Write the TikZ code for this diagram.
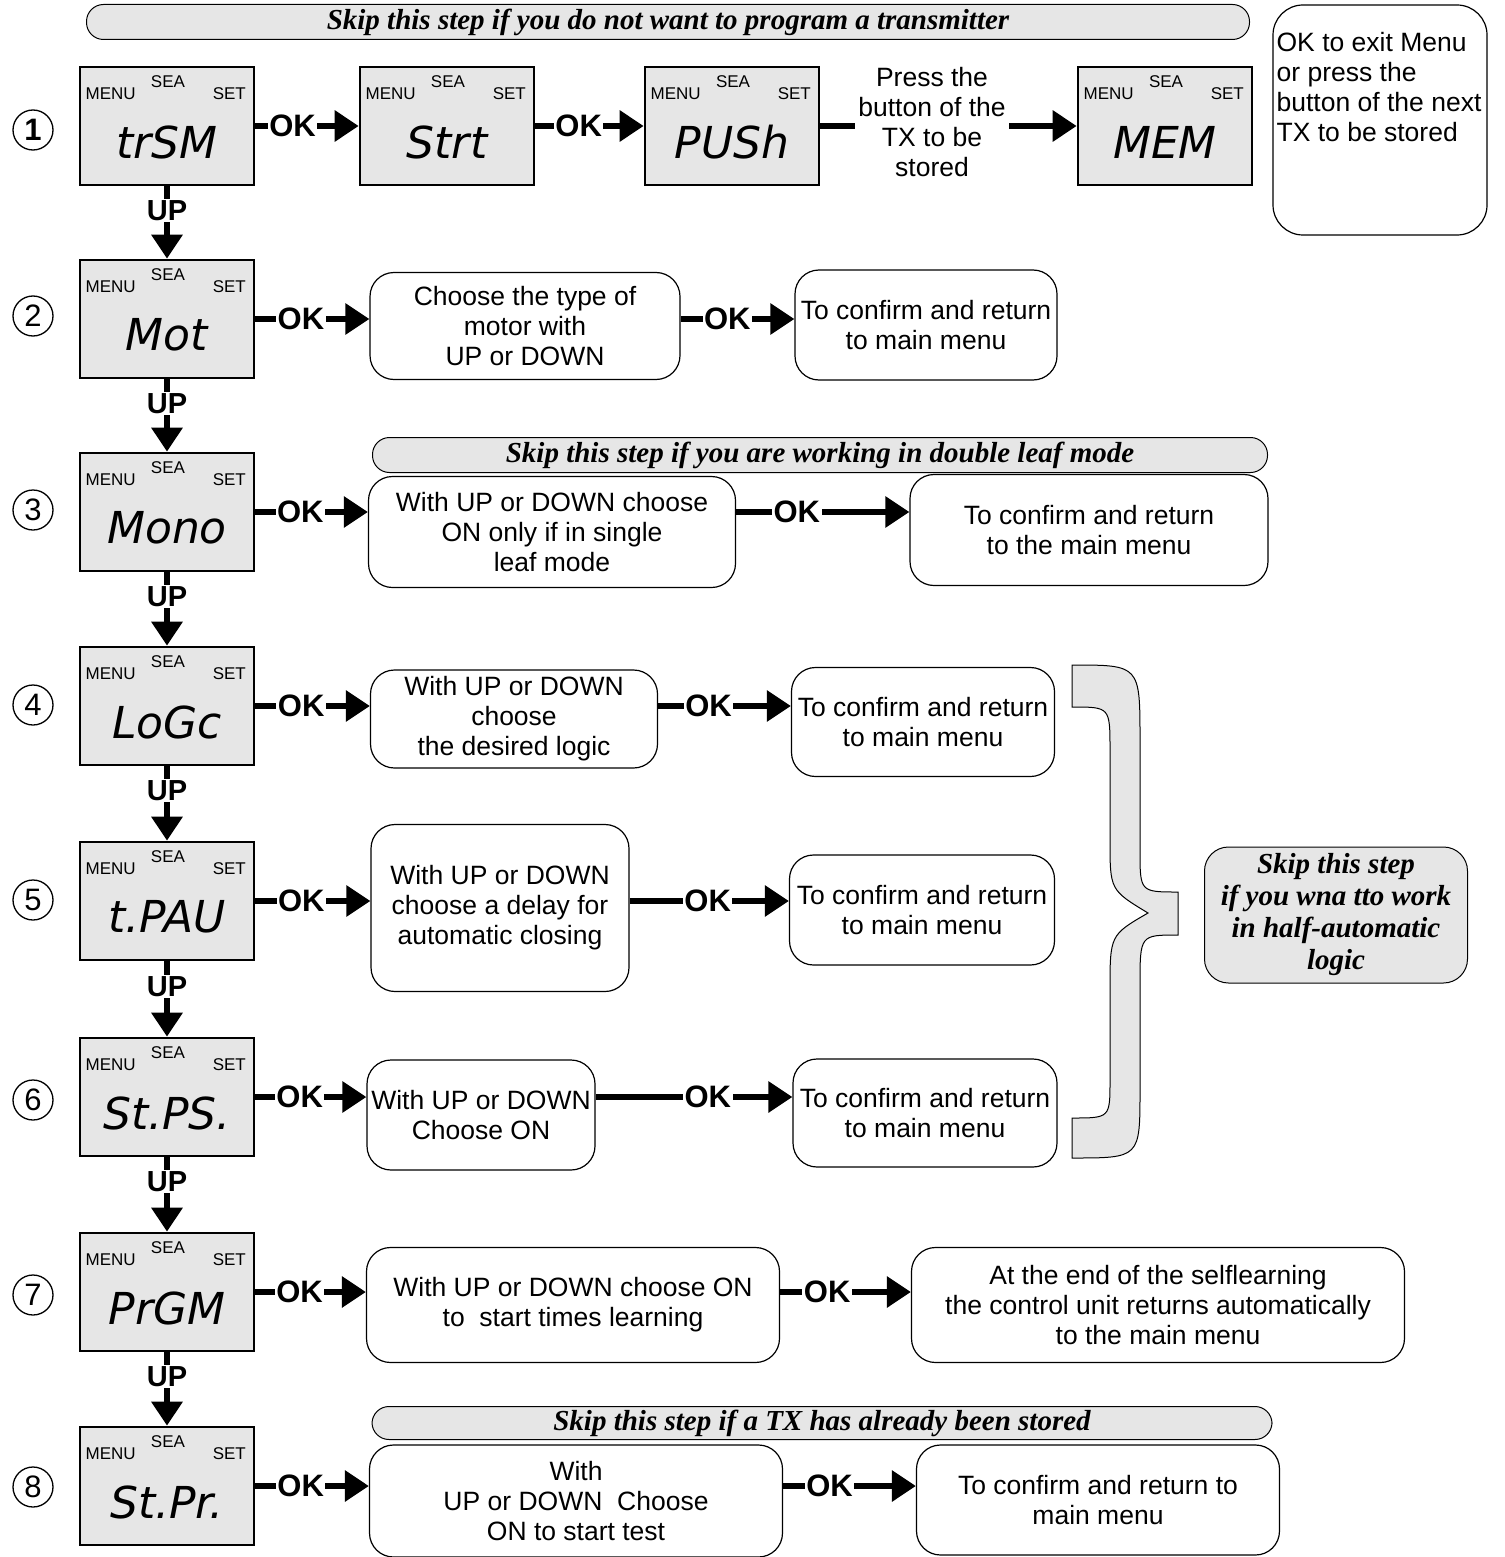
\documentclass[tikz,border=0pt]{standalone}
\usepackage{fontspec}
\setmainfont{Liberation Sans}
\newfontfamily\skipfont{Liberation Serif}
\newfontfamily\lcdfont{DejaVu Sans}
\usetikzlibrary{arrows.meta}
\definecolor{panelgray}{HTML}{E6E6E6}

\begin{document}
\begin{tikzpicture}[x=1pt,y=-1pt,
    lcdbox/.style={draw, line width=2.6pt, fill=panelgray, minimum width=174pt, minimum height=118pt, inner sep=0pt},
    lcdtext/.style={font=\lcdfont\itshape\fontsize{44}{44}\selectfont, inner sep=0pt},
    lcdtag/.style={font=\fontsize{17}{18}\selectfont, inner sep=0pt},
    infobox/.style={draw, line width=1.2pt, rounded corners=24pt, fill=white, align=center, inner sep=2pt, font=\fontsize{26.5}{30}\selectfont},
    skipbar/.style={draw, line width=1pt, rounded corners=17pt, fill=panelgray, minimum height=35pt, inner sep=1pt, font=\skipfont\bfseries\itshape\fontsize{29}{32}\selectfont},
    okarrow/.style={line width=6pt, -{Triangle[length=24pt,width=30pt]}},
    okline/.style={line width=6pt},
    oklabel/.style={fill=white, inner sep=1.5pt, font=\bfseries\fontsize{31}{31}\selectfont, pos=0.4},
    uplabel/.style={fill=white, inner sep=1.5pt, font=\bfseries\fontsize{29}{29}\selectfont, pos=0.33},
    numcirc/.style={circle, draw, line width=1.3pt, minimum size=40pt, inner sep=0pt, font=\fontsize{31}{31}\selectfont}]
    \useasboundingbox (0,0) rectangle (1504,1557);

    \foreach \n/\x/\y/\txt in {lcd1/167/126/trSM, lcd1b/447/126/Strt, lcd1c/732/126/PUSh, lcd1d/1165/126/MEM,
        lcd2/167/319/Mot, lcd3/167/512/Mono, lcd4/167/706/LoGc, lcd5/167/901/t.PAU,
        lcd6/167/1097/St.PS., lcd7/167/1292/PrGM, lcd8/167/1486/St.Pr.}
    {
        \node[lcdbox] (\n) at (\x,\y) {};
        \node[lcdtext] (\n-txt) at ([yshift=-16pt]\n.center) {\txt};
        \node[lcdtag] (\n-menu) at ([xshift=32pt,yshift=-28pt]\n.north west) {MENU};
        \node[lcdtag] (\n-sea) at ([xshift=1pt,yshift=-16pt]\n.north) {SEA};
        \node[lcdtag] (\n-set) at ([xshift=-26pt,yshift=-28pt]\n.north east) {SET};
    }

    \node[numcirc, font=\bfseries\fontsize{31}{31}\selectfont] (num1) at (33,130) {1};
    \foreach \i/\y in {2/316,3/510,4/705,5/900,6/1100,7/1295,8/1487}
        \node[numcirc] (num\i) at (33,\y) {\i};

    \foreach \i [count=\j from 2] in {1,...,7}
        \draw[okarrow] (lcd\i) -- node[uplabel] {UP} (lcd\j);

    \node[skipbar, minimum width=1163pt] (skip1) at (668,22) {Skip this step if you do not want to program a transmitter};
    \draw[okarrow] (lcd1) -- node[oklabel, pos=0.36] {OK} (lcd1b);
    \draw[okarrow] (lcd1b) -- node[oklabel] {OK} (lcd1c);
    \node[align=center, font=\fontsize{26.5}{30}\selectfont] (press) at (932,122) {Press the\\button of the\\TX to be\\stored};
    \draw[okline] (lcd1c) -- (lcd1c -| press.west);
    \draw[okarrow] (lcd1c -| press.east) -- (lcd1d);
    \node[draw, line width=1.2pt, rounded corners=30pt, minimum width=214pt, minimum height=230pt] (note) at (1380,120) {};
    \node[anchor=north west, align=left, inner sep=0pt, font=\fontsize{26.5}{30}\selectfont] (note-txt) at ([xshift=4pt,yshift=-28pt]note.north west) {OK to exit Menu\\or press the\\button of the next\\TX to be stored};

    \node[infobox, minimum width=310pt, minimum height=107pt] (mot-a) at (525,326) {Choose the type of\\motor with\\UP or DOWN};
    \node[infobox, minimum width=262pt, minimum height=110pt] (mot-b) at (926,325) {To confirm and return\\to main menu};
    \draw[okarrow] (lcd2) -- node[oklabel] {OK} (lcd2 -| mot-a.west);
    \draw[okarrow] (lcd2 -| mot-a.east) -- node[oklabel, pos=0.41] {OK} (lcd2 -| mot-b.west);

    \node[skipbar, minimum width=895pt] (skip3) at (820,455) {Skip this step if you are working in double leaf mode};
    \node[infobox, minimum width=367pt, minimum height=111pt] (mono-a) at (552,532) {With UP or DOWN choose\\ON only if in single\\leaf mode};
    \node[infobox, minimum width=358pt, minimum height=111pt] (mono-b) at (1089,530) {To confirm and return\\to the main menu};
    \draw[okarrow] (lcd3) -- node[oklabel] {OK} (lcd3 -| mono-a.west);
    \draw[okarrow] (lcd3 -| mono-a.east) -- node[oklabel, pos=0.35] {OK} (lcd3 -| mono-b.west);

    \node[infobox, minimum width=287pt, minimum height=98pt] (logic-a) at (514,719) {With UP or DOWN\\choose\\the desired logic};
    \node[infobox, minimum width=263pt, minimum height=109pt] (logic-b) at (923,722) {To confirm and return\\to main menu};
    \draw[okarrow] (lcd4) -- node[oklabel] {OK} (lcd4 -| logic-a.west);
    \draw[okarrow] (lcd4 -| logic-a.east) -- node[oklabel, pos=0.38] {OK} (lcd4 -| logic-b.west);

    \node[infobox, minimum width=258pt, minimum height=167pt] (pause-a) at (500,908) {With UP or DOWN\\choose a delay for\\automatic closing};
    \node[infobox, minimum width=265pt, minimum height=110pt] (pause-b) at (922,910) {To confirm and return\\to main menu};
    \draw[okarrow] (lcd5) -- node[oklabel] {OK} (lcd5 -| pause-a.west);
    \draw[okarrow] (lcd5 -| pause-a.east) -- node[oklabel, pos=0.49] {OK} (lcd5 -| pause-b.west);

    \node[infobox, minimum width=228pt, minimum height=110pt] (stps-a) at (481,1115) {With UP or DOWN\\Choose ON};
    \node[infobox, minimum width=264pt, minimum height=108pt] (stps-b) at (925,1113) {To confirm and return\\to main menu};
    \draw[okarrow] (lcd6) -- node[oklabel] {OK} (lcd6 -| stps-a.west);
    \draw[okarrow] (lcd6 -| stps-a.east) -- node[oklabel, pos=0.57] {OK} (lcd6 -| stps-b.west);

    \draw[line width=1pt, fill=panelgray] (1072,665) .. controls (1140,665) .. (1140,740) -- (1140,850)
        .. controls (1140,892) .. (1178,892) -- (1178,935) .. controls (1140,935) .. (1140,985) -- (1140,1090)
        .. controls (1140,1158) .. (1072,1158) -- (1072,1118) .. controls (1110,1118) .. (1110,1080) -- (1110,990)
        .. controls (1110,935) .. (1148,913) .. controls (1110,890) .. (1110,840) -- (1110,750)
        .. controls (1110,707) .. (1072,707) -- cycle;
    \node[skipbar, rounded corners=24pt, minimum width=263pt, minimum height=136pt, align=center] (halfauto) at (1336,915) {Skip this step\\if you wna tto work\\in half-automatic\\logic};

    \node[infobox, minimum width=413pt, minimum height=115pt] (prgm-a) at (573,1305) {With UP or DOWN choose ON\\to\ \ start times learning};
    \node[infobox, minimum width=493pt, minimum height=115pt] (prgm-b) at (1158,1305) {At the end of the selflearning\\the control unit returns automatically\\to the main menu};
    \draw[okarrow] (lcd7) -- node[oklabel] {OK} (lcd7 -| prgm-a.west);
    \draw[okarrow] (lcd7 -| prgm-a.east) -- node[oklabel, pos=0.36] {OK} (lcd7 -| prgm-b.west);

    \node[skipbar, minimum width=900pt, minimum height=33pt] (skip8) at (822,1423) {Skip this step if a TX has already been stored};
    \node[infobox, minimum width=413pt, minimum height=112pt] (stpr-a) at (576,1501) {With\\UP or DOWN\ \ Choose\\ON to start test};
    \node[infobox, minimum width=363pt, minimum height=110pt] (stpr-b) at (1098,1500) {To confirm and return to\\main menu};
    \draw[okarrow] (lcd8) -- node[oklabel] {OK} (lcd8 -| stpr-a.west);
    \draw[okarrow] (lcd8 -| stpr-a.east) -- node[oklabel, pos=0.35] {OK} (lcd8 -| stpr-b.west);
\end{tikzpicture}
\end{document}
